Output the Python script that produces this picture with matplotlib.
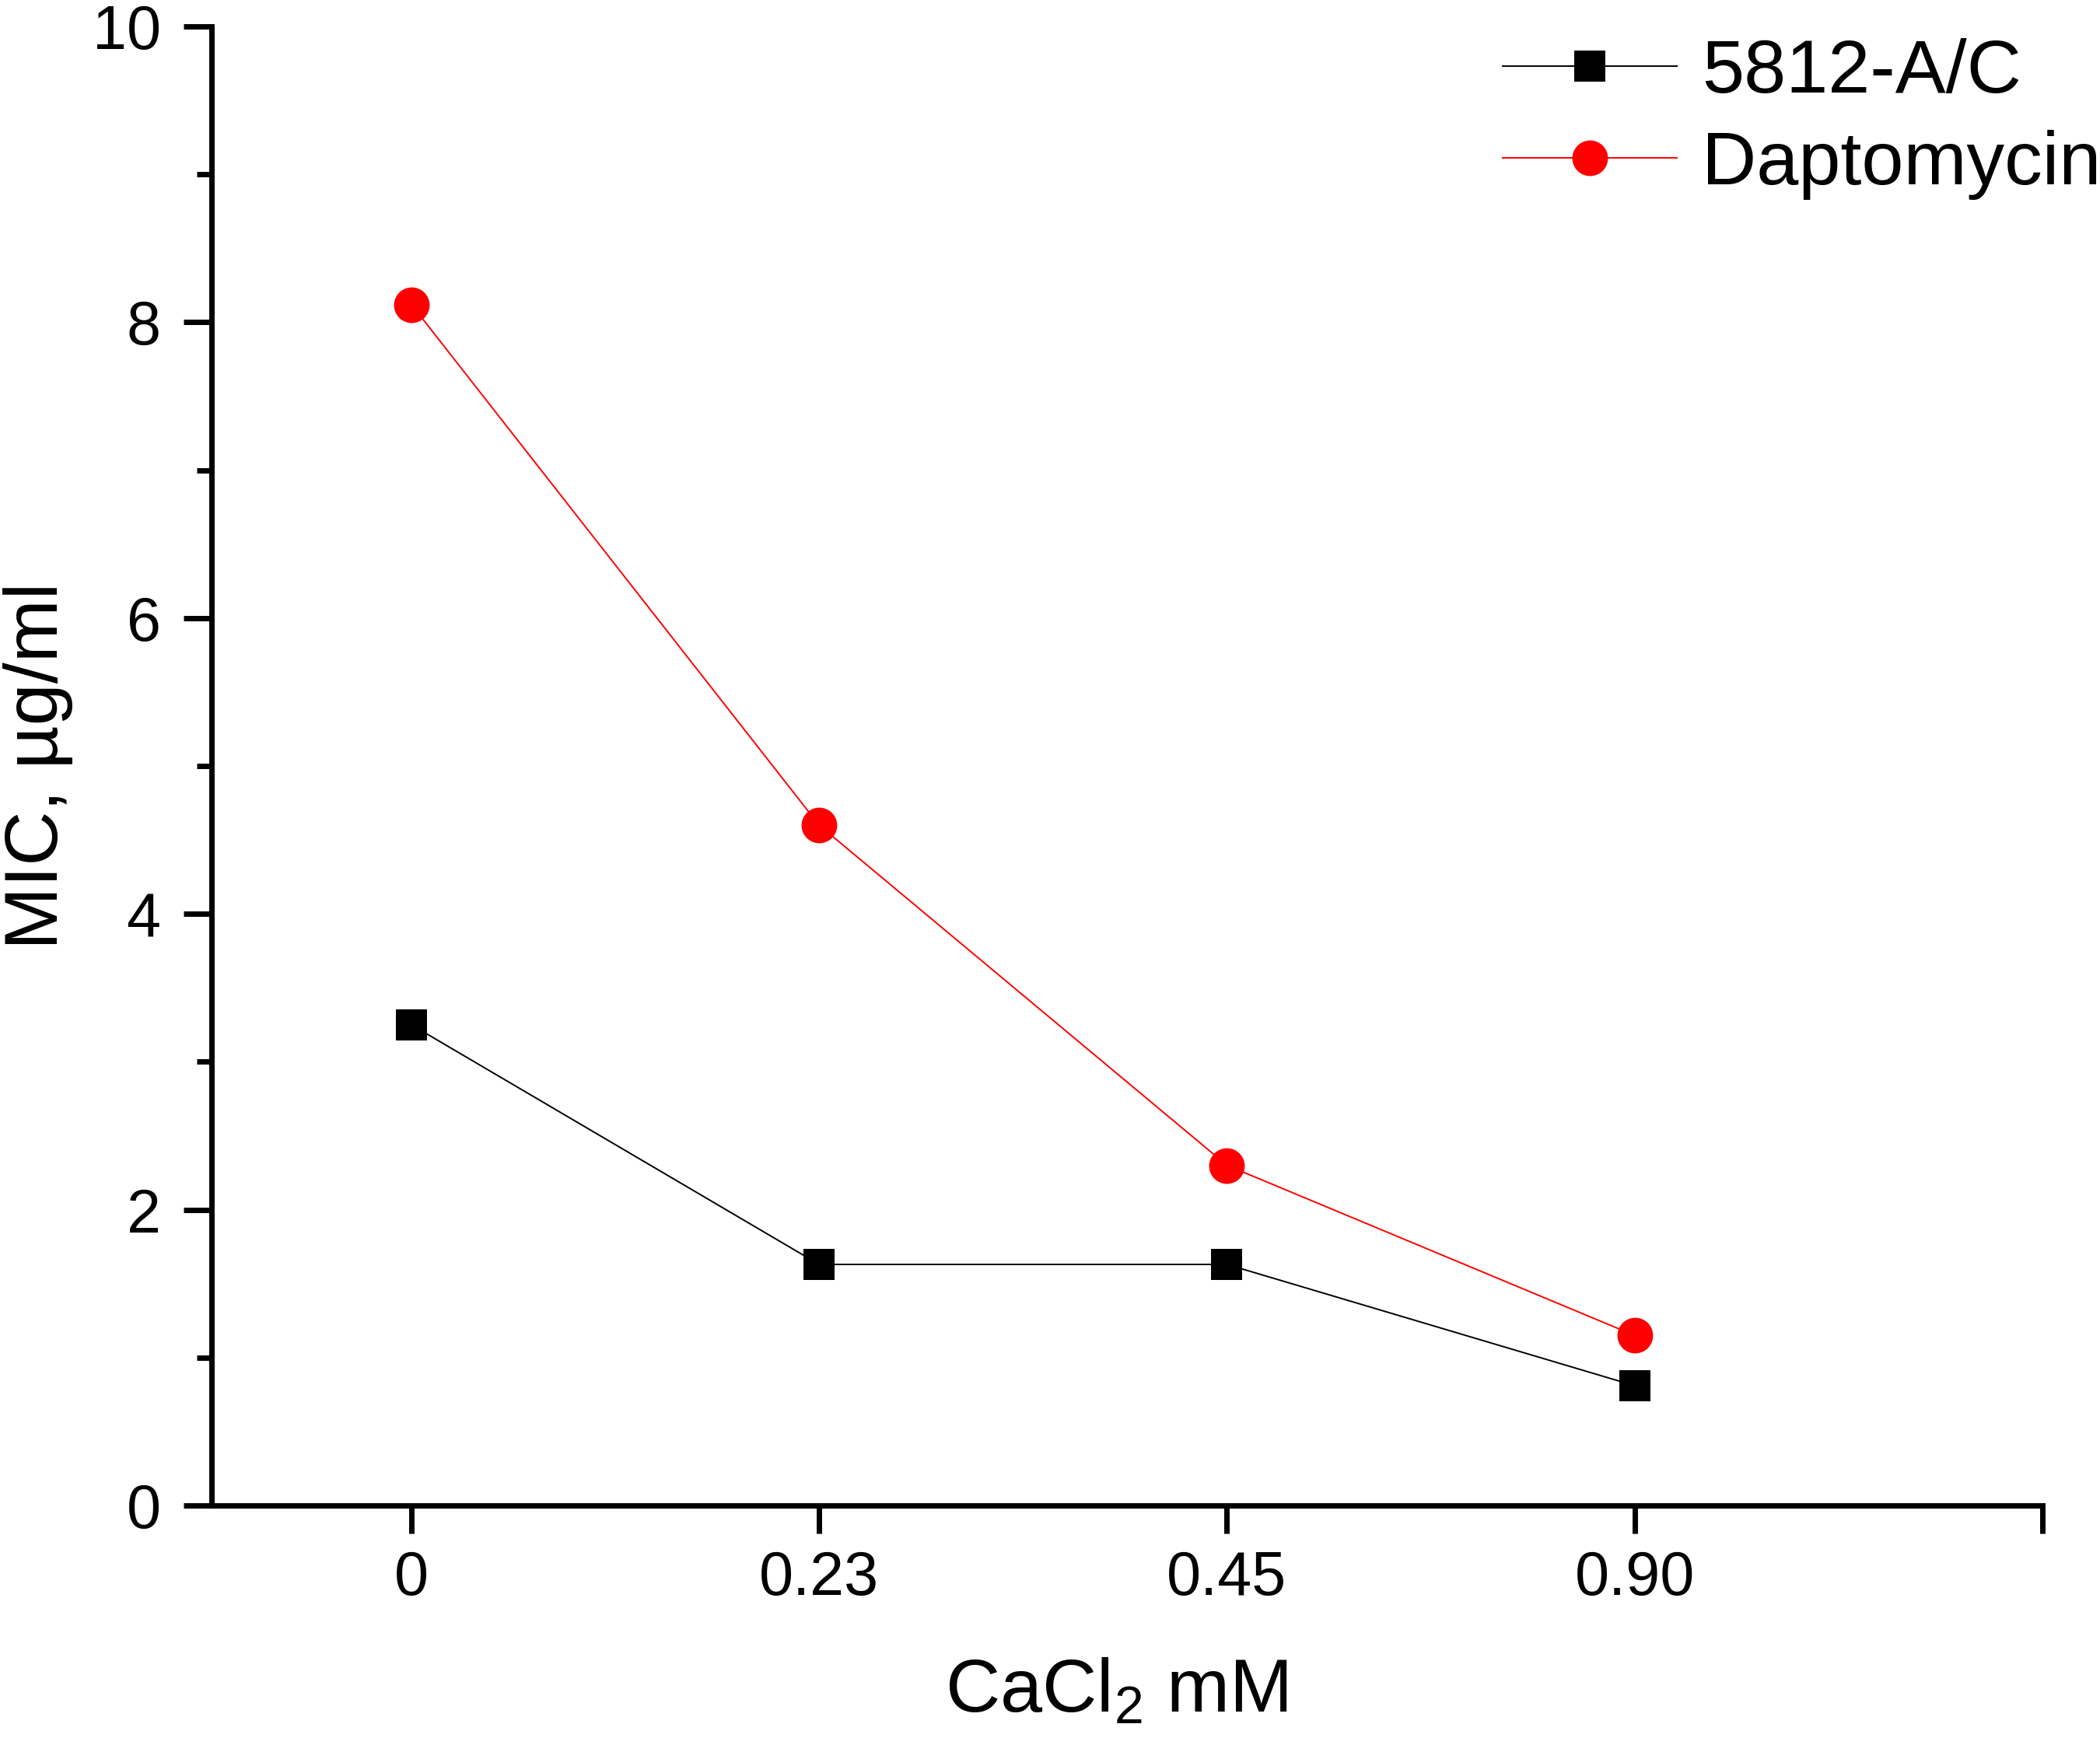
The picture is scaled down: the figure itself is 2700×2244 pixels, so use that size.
import matplotlib
matplotlib.use("Agg")
import matplotlib.pyplot as plt
from matplotlib.ticker import MultipleLocator

plt.rcParams['font.family'] = ['Liberation Sans', 'DejaVu Sans']
plt.rcParams['mathtext.fontset'] = 'custom'
plt.rcParams['mathtext.rm'] = 'Liberation Sans'
plt.rcParams['mathtext.it'] = 'Liberation Sans'
plt.rcParams['mathtext.default'] = 'regular'

# data
conc_labels = ['0', '0.23', '0.45', '0.90']
mic_5812 = [3.25, 1.63, 1.63, 0.81]
mic_dapto = [8.12, 4.60, 2.30, 1.15]

fig = plt.figure(figsize=(27, 22.44), dpi=100)
ax = fig.add_axes([272 / 2700, 1 - 1936 / 2244, (2626 - 272) / 2700, (1936 - 34) / 2244])

xpos = list(range(len(conc_labels)))
ax.plot(xpos, mic_5812, color='black', lw=1.4, marker='s', ms=29.5, mew=0,
        label='5812-A/C')
ax.plot(xpos, mic_dapto, color='#ff0000', lw=1.4, marker='o', ms=33, mew=0,
        label='Daptomycin')

ax.set_xlim(-0.49, 4.0)
ax.set_ylim(0, 10)
ax.set_xticks(xpos + [4.0])
ax.set_xticklabels(conc_labels + [''])
ax.set_yticks([0, 2, 4, 6, 8, 10])
ax.yaxis.set_minor_locator(MultipleLocator(1))

for s in ['top', 'right']:
    ax.spines[s].set_visible(False)
for s in ['left', 'bottom']:
    ax.spines[s].set_linewidth(5)

ax.tick_params(axis='both', which='major', length=26, width=5, labelsize=57)
ax.tick_params(axis='y', which='minor', length=14, width=5)
ax.tick_params(axis='x', pad=15)
ax.tick_params(axis='y', pad=21)

ax.set_ylabel('MIC, µg/ml', fontsize=70)
ax.set_xlabel('CaCl$_2$ mM', fontsize=70)
ax.yaxis.set_label_coords(-0.0758, 0.5)
ax.xaxis.set_label_coords(0.494, -0.103)

ax.legend(loc='upper left', bbox_to_anchor=(1932 / 2700, 1 - 49 / 2244),
          bbox_transform=fig.transFigure, frameon=False, fontsize=70,
          handlelength=2.3, handletextpad=0.33, labelspacing=0.29,
          borderpad=0, borderaxespad=0)

fig.savefig('out.png', dpi=100)
